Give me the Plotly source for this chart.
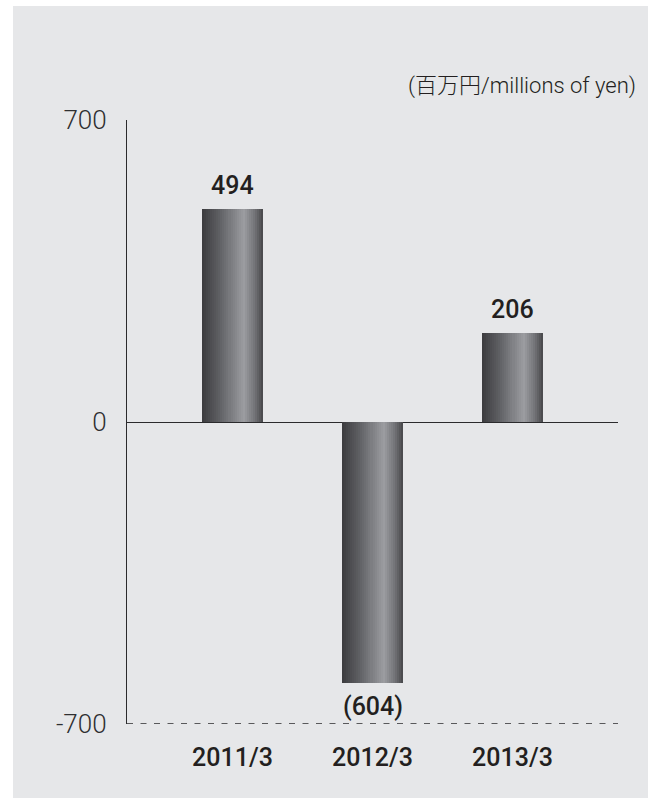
import plotly.graph_objects as go

categories = ["2011/3", "2012/3", "2013/3"]
values = [494, -604, 206]
value_labels = ["494", "(604)", "206"]
y_tickvals = [-700, 0, 700]
y_ticktext = ["-700", "0", "700"]
unit_text = "(百万円/millions of yen)"

W, H = 648, 798
L, R, T, B = 127, 30, 120, 74
PW, PH = W - L - R, H - T - B

TEXT = "#231f20"
PANEL = "#e6e7e9"

def hex2rgb(h):
    h = h.lstrip("#")
    return [int(h[i:i + 2], 16) for i in (0, 2, 4)]

stops = [(0.0, "#3b3b3e"), (0.3, "#606165"), (0.68, "#9c9da1"), (0.86, "#737478"), (1.0, "#47474a")]

def grad(t):
    for (a, ca), (b, cb) in zip(stops[:-1], stops[1:]):
        if a <= t <= b:
            f = (t - a) / (b - a)
            c1, c2 = hex2rgb(ca), hex2rgb(cb)
            return "rgb(%d,%d,%d)" % tuple(round(c1[i] + (c2[i] - c1[i]) * f) for i in range(3))
    return stops[-1][1]

bar_w = 0.436
N = 30
xs = list(range(len(categories)))
fig = go.Figure()
for i in range(N):
    sw = bar_w / N
    fig.add_trace(go.Bar(
        x=xs, y=values, width=sw * 1.25 if i < N - 1 else sw,
        offset=-bar_w / 2 + i * sw,
        marker=dict(color=grad((i + 0.5) / N), line=dict(width=0)),
        showlegend=False, hoverinfo="skip",
    ))

for xi, v, lab in zip(xs, values, value_labels):
    fig.add_annotation(
        x=xi, y=v, text=lab, showarrow=False,
        yanchor="bottom" if v >= 0 else "top",
        yshift=7 if v >= 0 else -7,
        font=dict(family="Roboto, Liberation Sans, Arial", size=25, color=TEXT, weight=500),
    )

fig.add_annotation(
    xref="paper", yref="paper", x=(638 - L) / PW, y=(H - B - 86) / PH,
    xanchor="right", yanchor="middle", text=unit_text, showarrow=False,
    font=dict(family="Roboto, Noto Sans CJK JP", size=22, color=TEXT, weight=300),
)

# gray panel
fig.add_shape(type="rect", xref="paper", yref="paper",
              x0=(13 - L) / PW, x1=(W - L) / PW + 0.01,
              y0=(H - B - H) / PH - 0.01, y1=(H - B - 6) / PH,
              fillcolor=PANEL, line=dict(width=0), layer="below")
# dashed baseline at axis minimum
fig.add_shape(type="line", xref="paper", yref="y", x0=0, x1=1,
              y0=y_tickvals[0], y1=y_tickvals[0],
              line=dict(color="#2b2b2d", width=1.5, dash="6px,7.5px"))

fig.update_layout(
    width=W, height=H,
    margin=dict(l=L, r=R, t=T, b=B, pad=0),
    paper_bgcolor="white", plot_bgcolor=PANEL,
    barmode="overlay", bargap=0,
    xaxis=dict(
        range=[-0.754, 2.754], tickvals=xs, ticktext=categories,
        showgrid=False, zeroline=False, showline=False, ticks="",
        ticklabelstandoff=16,
        tickfont=dict(family="Roboto, Liberation Sans, Arial", size=25, color=TEXT, weight=500),
    ),
    yaxis=dict(
        range=[-700, 700], tickvals=y_tickvals, ticktext=y_ticktext,
        showgrid=False, zeroline=True, zerolinecolor="#2b2b2d", zerolinewidth=1.3,
        showline=True, linecolor="#2b2b2d", linewidth=1.3, ticks="",
        ticklabelstandoff=14,
        tickfont=dict(family="Roboto, Liberation Sans, Arial", size=26, color="#2f2f31", weight=300),
    ),
)

fig.write_html("out.html", config={"displayModeBar": False},
               post_script="document.body.style.margin='0';document.body.style.overflow='hidden';")
